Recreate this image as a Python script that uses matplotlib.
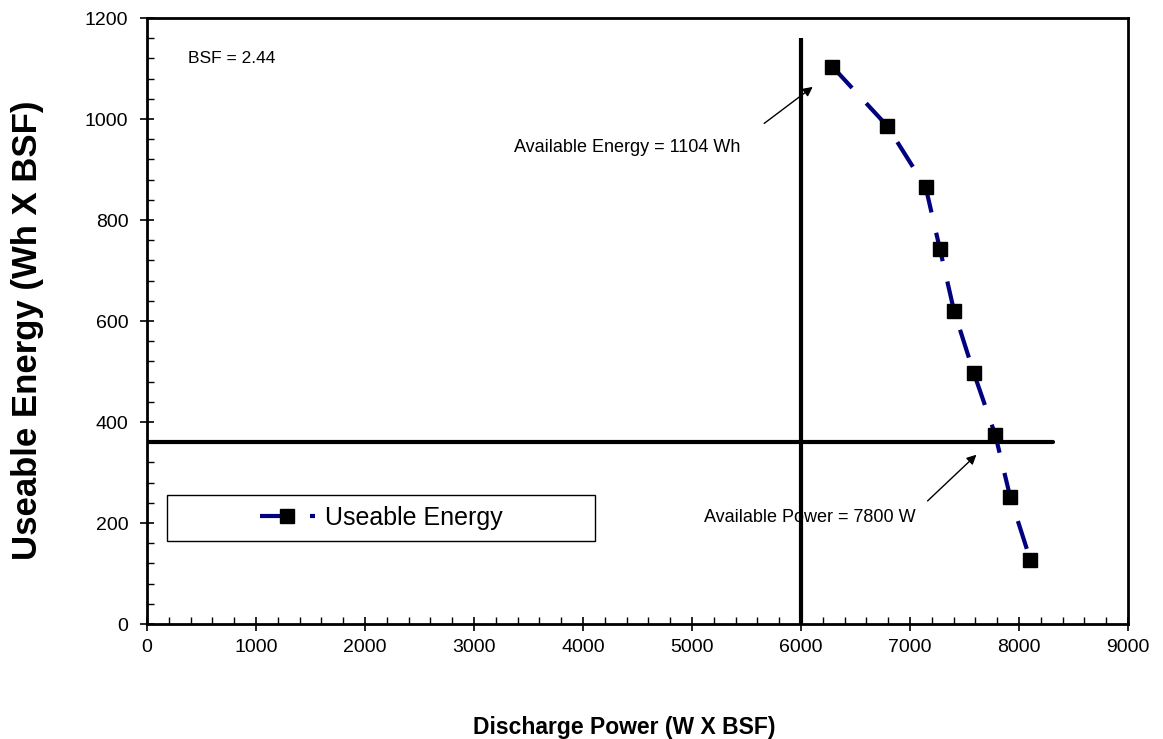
import matplotlib.pyplot as plt
from matplotlib.patches import Rectangle
from matplotlib.ticker import MultipleLocator

plt.rcParams['font.family'] = ['Liberation Sans', 'DejaVu Sans']

# discharge power (W x BSF) and useable energy (Wh x BSF)
power = [6287, 6792, 7144, 7275, 7404, 7584, 7783, 7920, 8104]
energy = [1104, 986, 865, 742, 620, 498, 374, 251, 127]

bsf_text = "BSF = 2.44"
energy_note = "Available Energy = 1104 Wh"
power_note = "Available Power = 7800 W"
limit_power = 6000
limit_energy = 360

fig = plt.figure(figsize=(11.63, 7.39), dpi=100)
ax = fig.add_axes([0.1264, 0.1556, 0.8435, 0.82])

ax.plot(power, energy, color='#000080', linewidth=3, linestyle=(0, (7, 5)),
        marker='s', markersize=10, markerfacecolor='black', markeredgecolor='black',
        label='Useable Energy', zorder=4)

# limit lines
ax.plot([limit_power, limit_power], [0, 1160], color='black', linewidth=3, solid_capstyle='butt', zorder=3)
ax.plot([0, 8310], [limit_energy, limit_energy], color='black', linewidth=3, solid_capstyle='round', zorder=3)

ax.set_xlim(0, 9000)
ax.set_ylim(0, 1200)
ax.xaxis.set_major_locator(MultipleLocator(1000))
ax.xaxis.set_minor_locator(MultipleLocator(200))
ax.yaxis.set_major_locator(MultipleLocator(200))
ax.yaxis.set_minor_locator(MultipleLocator(40))
ax.tick_params(which='major', direction='inout', length=10, width=1.2, labelsize=14)
ax.tick_params(axis='x', which='major', pad=6)
ax.tick_params(axis='y', which='major', pad=8.5)
ax.tick_params(which='minor', direction='in', length=5, width=1)
for s in ax.spines.values():
    s.set_linewidth(2)

ax.set_xlabel('Discharge Power (W X BSF)', fontsize=16.5, fontweight='bold', va='top')
ax.set_ylabel('Useable Energy (Wh X BSF)', fontsize=25, fontweight='bold')
ax.xaxis.set_label_coords(0.486, -0.152)
ax.yaxis.set_label_coords(-0.105, 0.485)

ax.text(376, 1119, bsf_text, fontsize=12.5, va='center')
ax.text(3370, 943, energy_note, fontsize=13, va='center')
ax.text(5110, 210, power_note, fontsize=13, va='center')
ax.annotate('', xy=(6128, 1067), xytext=(5642, 988),
            arrowprops=dict(arrowstyle='-|>', color='black', lw=1, mutation_scale=14))
ax.annotate('', xy=(7628, 339), xytext=(7143, 240),
            arrowprops=dict(arrowstyle='-|>', color='black', lw=1, mutation_scale=14))

# legend box
ax.add_patch(Rectangle((0.0204, 0.137), 0.4363, 0.0759, transform=ax.transAxes,
                       facecolor='white', edgecolor='black', linewidth=1, zorder=5))
ax.legend(loc='center', bbox_to_anchor=(0.2386, 0.175), frameon=False, fontsize=18,
          handlelength=2.2, handletextpad=0.4, numpoints=1).set_zorder(6)

fig.savefig('out.png', dpi=100)
